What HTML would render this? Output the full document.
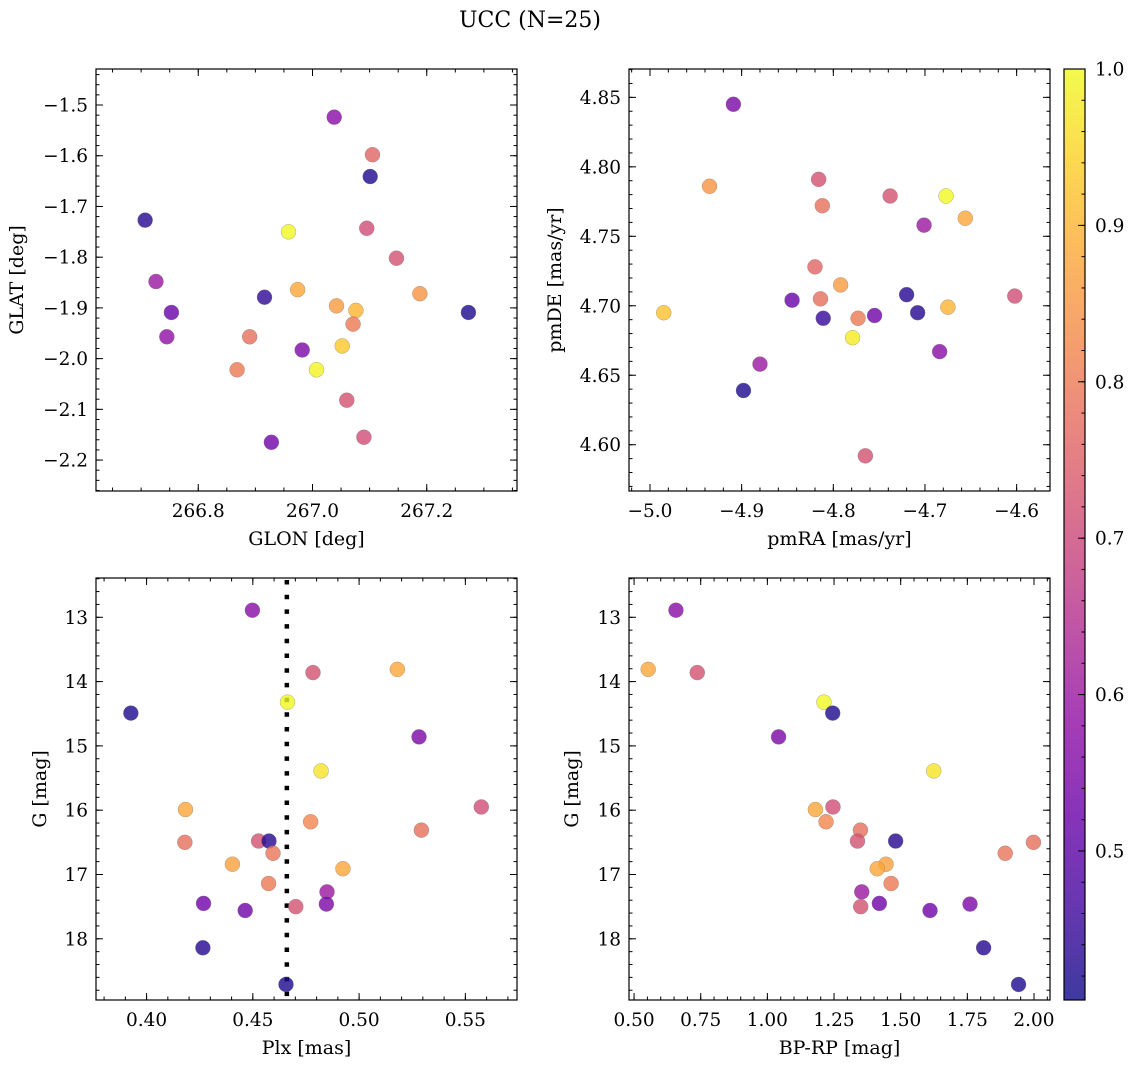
<!DOCTYPE html>
<html><head><meta charset="utf-8"><style>
html,body{margin:0;padding:0;background:#fff;}
svg{display:block;font-family:"DejaVu Serif","Liberation Serif",serif;}
</style></head><body>
<svg id="fig" width="1136" height="1068" viewBox="0 0 1136 1068" xmlns="http://www.w3.org/2000/svg">
<text x="530" y="27" text-anchor="middle" font-size="22">UCC (N=25)</text>
</svg>
<script>
// Panel 1: GLON vs GLAT
const glon = [267.038,267.105,267.101,266.707,266.958,267.095,267.147,266.726,266.974,267.188,266.916,266.753,267.042,267.076,267.273,267.071,266.745,266.890,266.982,267.052,266.868,267.007,267.060,267.090,266.928];
const glat = [-1.524,-1.598,-1.641,-1.727,-1.750,-1.743,-1.802,-1.848,-1.864,-1.872,-1.879,-1.909,-1.896,-1.905,-1.909,-1.932,-1.957,-1.957,-1.983,-1.975,-2.022,-2.022,-2.082,-2.155,-2.165];
const probPos = [0.57,0.76,0.42,0.43,1.0,0.71,0.72,0.60,0.88,0.85,0.44,0.52,0.86,0.90,0.42,0.80,0.58,0.78,0.55,0.93,0.80,0.99,0.72,0.71,0.53];
// Panel 2: pmRA vs pmDE
const pmra = [-4.909,-4.935,-4.816,-4.738,-4.677,-4.812,-4.656,-4.701,-4.820,-4.792,-4.845,-4.814,-4.720,-4.602,-4.985,-4.675,-4.811,-4.773,-4.755,-4.708,-4.779,-4.684,-4.880,-4.898,-4.765];
const pmde = [4.845,4.786,4.791,4.779,4.779,4.772,4.763,4.758,4.728,4.715,4.704,4.705,4.708,4.707,4.695,4.699,4.691,4.691,4.693,4.695,4.677,4.667,4.658,4.639,4.592];
const probPm = [0.55,0.85,0.72,0.72,1.0,0.78,0.88,0.60,0.76,0.86,0.52,0.78,0.43,0.71,0.92,0.90,0.45,0.80,0.53,0.43,0.98,0.57,0.60,0.42,0.72];
// Panels 3 & 4: Plx, BP-RP vs G
const plx = [0.4498,0.4783,0.5180,0.4663,0.3926,0.5282,0.4821,0.4183,0.5575,0.4772,0.5293,0.4180,0.4527,0.4576,0.4595,0.4404,0.4924,0.4574,0.4849,0.4268,0.4846,0.4464,0.4702,0.4265,0.4656];
const gmag = [12.89,13.86,13.81,14.32,14.49,14.86,15.39,15.99,15.95,16.18,16.31,16.50,16.48,16.48,16.67,16.84,16.91,17.14,17.27,17.45,17.46,17.56,17.50,18.14,18.71];
const bprp = [0.657,0.737,0.553,1.212,1.245,1.042,1.624,1.180,1.246,1.220,1.349,1.998,1.338,1.481,1.892,1.445,1.412,1.464,1.354,1.420,1.760,1.610,1.350,1.811,1.942];
const probPhot = [0.57,0.72,0.88,1.0,0.42,0.55,0.97,0.88,0.71,0.82,0.78,0.78,0.72,0.43,0.79,0.87,0.88,0.80,0.60,0.53,0.55,0.53,0.72,0.43,0.42];
const plxMedian = 0.466;
// tick labels
const ticksGlon = [266.8,267.0,267.2];
const ticksGlat = [-1.5,-1.6,-1.7,-1.8,-1.9,-2.0,-2.1,-2.2];
const ticksPmra = [-5.0,-4.9,-4.8,-4.7,-4.6];
const ticksPmde = [4.60,4.65,4.70,4.75,4.80,4.85];
const ticksPlx = [0.40,0.45,0.50,0.55];
const ticksG = [13,14,15,16,17,18];
const ticksBprp = [0.50,0.75,1.00,1.25,1.50,1.75,2.00];
const ticksCbar = [0.5,0.6,0.7,0.8,0.9,1.0];
const cbarMin = 0.4047, cbarMax = 1.0;

const NS = "http://www.w3.org/2000/svg";
const svg = document.getElementById('fig');
const TFS = 18.5, LFS = 19;
function mk(tag, attrs, parent){const e=document.createElementNS(NS,tag);for(const k in attrs)e.setAttribute(k,attrs[k]);(parent||svg).appendChild(e);return e;}
const stops=[[13,8,135],[65,4,157],[106,0,168],[143,13,164],[177,42,144],[204,71,120],[225,100,98],[242,132,75],[252,166,54],[252,206,37],[240,249,33]];
function plasma(t){t=Math.max(0,Math.min(1,t));const f=t*10,i=Math.min(9,Math.floor(f)),r=f-i;const a=stops[i],b=stops[i+1];return 'rgb('+a.map((v,k)=>Math.round(v+(b[k]-v)*r)).join(',')+')';}
function cmap(p){return plasma((p-cbarMin)/(cbarMax-cbarMin));}
function lin(d0,d1,r0,r1){return v=>r0+(v-d0)*(r1-r0)/(d1-d0);}

function panel(o){
  const g=mk('g',{});
  
  
  const X=lin(o.xd[0],o.xd[1],o.x0,o.x1), Y=lin(o.yd[0],o.yd[1],o.y1,o.y0);
  const tg=mk('g',{stroke:'#000','stroke-width':1},g);
  
  
  const eps=1e-9;
  for(let v=Math.ceil(o.xd[0]/o.xm-eps)*o.xm; v<=o.xd[1]+eps; v+=o.xm){const px=X(v);mk('line',{x1:px,x2:px,y1:o.y1,y2:o.y1-3.5},tg);mk('line',{x1:px,x2:px,y1:o.y0,y2:o.y0+3.5},tg);}
  for(let v=Math.ceil(Math.min(...o.yd)/o.ym-eps)*o.ym; v<=Math.max(...o.yd)+eps; v+=o.ym){const py=Y(v);mk('line',{x1:o.x0,x2:o.x0+3.5,y1:py,y2:py},tg);mk('line',{x1:o.x1,x2:o.x1-3.5,y1:py,y2:py},tg);}
  o.xt.forEach(v=>{const px=X(v);mk('line',{x1:px,x2:px,y1:o.y1,y2:o.y1-7},tg);mk('line',{x1:px,x2:px,y1:o.y0,y2:o.y0+7},tg);
    const t=mk('text',{x:px,y:o.y1+26,'text-anchor':'middle','font-size':TFS},g);t.textContent=o.xf(v);
    
    });
  o.yt.forEach(v=>{const py=Y(v);mk('line',{x1:o.x0,x2:o.x0+7,y1:py,y2:py},tg);mk('line',{x1:o.x1,x2:o.x1-7,y1:py,y2:py},tg);
    const t=mk('text',{x:o.x0-8,y:py+6.5,'text-anchor':'end','font-size':TFS},g);t.textContent=o.yf(v);
    
    });
  if(o.extra) o.extra(g,X,Y);
  o.xs.forEach((xv,i)=>{const c=mk('circle',{cx:X(xv),cy:Y(o.ys[i]),r:7.5,fill:cmap(o.ps[i]),'fill-opacity':0.8,stroke:'#777','stroke-opacity':0.6,'stroke-width':0.5},g);
    
    });
  const fr=mk('rect',{x:o.x0,y:o.y0,width:o.x1-o.x0,height:o.y1-o.y0,fill:'none',stroke:'#000','stroke-width':1.2},g);
  
  
  const xl=mk('text',{x:(o.x0+o.x1)/2,y:o.y1+54,'text-anchor':'middle','font-size':LFS},g);xl.textContent=o.xl;
  
  
  const yx=o.ylx, yy=(o.y0+o.y1)/2;
  const yl=mk('text',{x:yx,y:yy,'text-anchor':'middle','font-size':LFS,transform:'rotate(-90 '+yx+' '+yy+')'},g);yl.textContent=o.yl;
  
  
}
const f1=v=>v.toFixed(1).replace('-','\u2212'), f2=v=>v.toFixed(2).replace('-','\u2212'), f0=v=>String(v);
panel({name:'galactic-position-panel',x0:96,x1:517,y0:69,y1:491,xd:[266.621,267.358],yd:[-2.261,-1.429],xm:0.05,ym:0.02,xt:ticksGlon,yt:ticksGlat,xf:f1,yf:f1,xs:glon,ys:glat,ps:probPos,xl:'GLON [deg]',yl:'GLAT [deg]',ylx:23});
panel({name:'proper-motion-panel',x0:629,x1:1050,y0:69,y1:491,xd:[-5.0229,-4.5636],yd:[4.5667,4.8704],xm:0.02,ym:0.01,xt:ticksPmra,yt:ticksPmde,xf:f1,yf:f2,xs:pmra,ys:pmde,ps:probPm,xl:'pmRA [mas/yr]',yl:'pmDE [mas/yr]',ylx:561});
panel({name:'parallax-panel',x0:96,x1:517,y0:578,y1:1000,xd:[0.3762,0.5743],yd:[18.952,12.389],xm:0.01,ym:0.2,xt:ticksPlx,yt:ticksG,xf:f2,yf:f0,xs:plx,ys:gmag,ps:probPhot,xl:'Plx [mas]',yl:'G [mag]',ylx:46,
  extra:(g,X,Y)=>{const l=mk('line',{x1:X(plxMedian),x2:X(plxMedian),y1:578,y2:1000,stroke:'#000','stroke-width':4.5,'stroke-dasharray':'4.5 10.2','stroke-dashoffset':-2},g);
    
    }});
panel({name:'cmd-panel',x0:629,x1:1050,y0:578,y1:1000,xd:[0.481,2.060],yd:[18.952,12.389],xm:0.05,ym:0.2,xt:ticksBprp,yt:ticksG,xf:f2,yf:f0,xs:bprp,ys:gmag,ps:probPhot,xl:'BP-RP [mag]',yl:'G [mag]',ylx:578});
// colorbar
const cb=mk('g',{});


const defs=mk('defs',{},cb);const lg=mk('linearGradient',{id:'cbg',x1:0,y1:1,x2:0,y2:0},defs);
for(let i=0;i<=20;i++)mk('stop',{offset:i/20,'stop-color':plasma(i/20)},lg);
const C0=1064,C1=1085,CT=69,CB=1000;const CY=lin(cbarMin,cbarMax,CB,CT);
mk('rect',{x:C0,y:CT,width:C1-C0,height:CB-CT,fill:'url(#cbg)','fill-opacity':0.8},cb);
for(let v=0.42;v<=1.0001;v+=0.02){const py=CY(v);mk('line',{x1:C1,x2:C1-3.5,y1:py,y2:py,stroke:'#000'},cb);}
ticksCbar.forEach(v=>{const py=CY(v);mk('line',{x1:C1,x2:C1-7,y1:py,y2:py,stroke:'#000'},cb);
  const t=mk('text',{x:C1+10,y:py+6.5,'font-size':TFS},cb);t.textContent=v.toFixed(1);
  
  });
mk('rect',{x:C0,y:CT,width:C1-C0,height:CB-CT,fill:'none',stroke:'#000','stroke-width':1.2},cb);
</script>
</body></html>
